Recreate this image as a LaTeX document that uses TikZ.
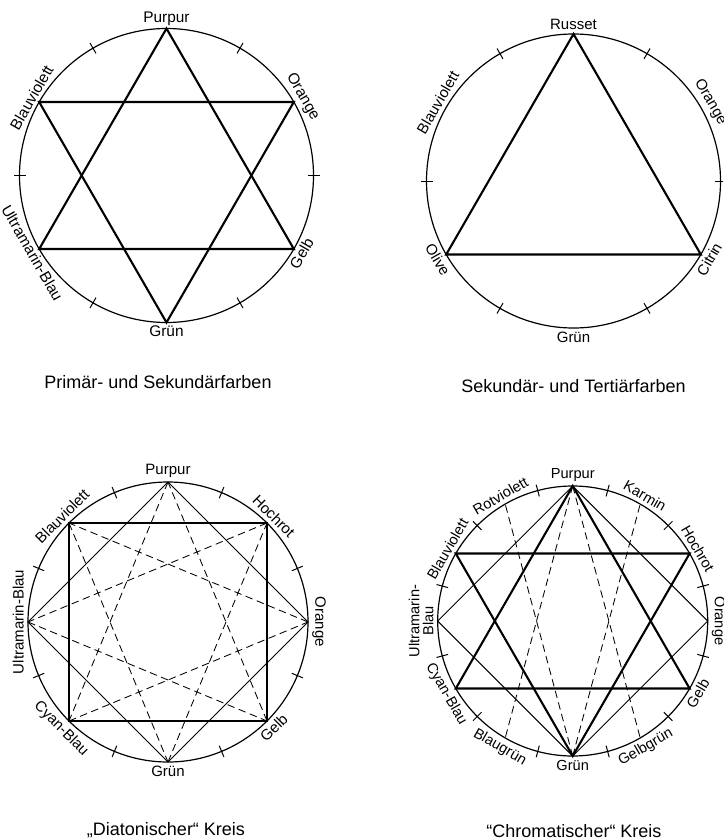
\documentclass[tikz,border=0pt]{standalone}
\usepackage{fontspec}
\setmainfont{Liberation Sans}
\begin{document}
\begin{tikzpicture}[x=1pt,y=1pt,
  circ/.style={line width=1.2pt},
  tickm/.style={line width=1pt},
  bold/.style={line width=2.1pt, line join=miter},
  thinl/.style={line width=1pt},
  dsh/.style={line width=0.85pt, dash pattern=on 7.5pt off 4.5pt},
  lbl/.style={font=\fontsize{15}{16}\selectfont, inner sep=1pt},
  lup/.style={lbl, anchor=south},
  ldn/.style={lbl, anchor=north},
  captxt/.style={font=\fontsize{18}{20}\selectfont, anchor=base, inner sep=0pt}]
\useasboundingbox (0,0) rectangle (723,-840);
\clip (0,0) rectangle (723,-840);

% ---------- A: Primaer- und Sekundaerfarben ----------
\begin{scope}[shift={(166.5,-175.5)}, lbl/.append style={font=\fontsize{15.4}{16}\selectfont}]
  \coordinate (Ac) at (0,0);
  \draw[circ] (Ac) circle[radius=147pt];
  \foreach \t in {0,60,...,300} \draw[tickm] (\t:141) -- (\t:153);
  \coordinate (Ap) at (90:147);
  \coordinate (Ao) at (30:147);
  \coordinate (Ag) at (-30:147);
  \coordinate (Agr) at (-90:147);
  \coordinate (Au) at (-150:147);
  \coordinate (Ab) at (150:147);
  \draw[bold] (Ap) -- (Ag) -- (Au) -- cycle;
  \draw[bold] (Agr) -- (Ao) -- (Ab) -- cycle;
  \node[lup] (lAp) at (90:149) {Purpur};
  \node[lup, rotate=-60] (lAo) at (30:149) {Orange};
  \node[ldn, rotate=60] (lAg) at (-30:149) {Gelb};
  \node[ldn] (lAgr) at (-90:149) {Grün};
  \node[ldn, rotate=-60] (lAu) at (-150:148) {Ultramarin-Blau};
  \node[lup, rotate=60] (lAb) at (150:149) {Blauviolett};
\end{scope}
\node[captxt] (capA) at (158,-388) {Primär- und Sekundärfarben};

% ---------- B: Sekundaer- und Tertiaerfarben ----------
\begin{scope}[shift={(573.5,-181)}]
  \coordinate (Bc) at (0,0);
  \draw[circ] (Bc) circle[radius=147pt];
  \foreach \t in {0,60,...,300} \draw[tickm] (\t:141) -- (\t:153);
  \coordinate (Br) at (90:147);
  \coordinate (Bci) at (-30:147);
  \coordinate (Bol) at (-150:147);
  \draw[bold] (Br) -- (Bci) -- (Bol) -- cycle;
  \node[lup] (lBr) at (90:150) {Russet};
  \node[lup, rotate=-60] (lBo) at (30:150) {Orange};
  \node[ldn, rotate=60] (lBci) at (-30:150) {Citrin};
  \node[ldn] (lBgr) at (-90:150) {Grün};
  \node[ldn, rotate=-60] (lBol) at (-150:150) {Olive};
  \node[lup, rotate=60] (lBb) at (150:150) {Blauviolett};
\end{scope}
\node[captxt] (capB) at (573.5,-392) {Sekundär- und Tertiärfarben};

% ---------- C: Diatonischer Kreis ----------
\begin{scope}[shift={(168,-622)}]
  \coordinate (Cc) at (0,0);
  \draw[circ] (Cc) circle[radius=140pt];
  \foreach \t in {22.5,67.5,...,337.5} \draw[tickm] (\t:134) -- (\t:146);
  \foreach \k in {0,...,7} \coordinate (C\k) at (\k*45:140);
  \foreach \k in {0,...,7} {
    \pgfmathtruncatemacro\j{mod(\k+3,8)}
    \draw[dsh] (C\k) -- (C\j);
  }
  \draw[thinl] (C0) -- (C2) -- (C4) -- (C6) -- cycle;
  \draw[bold] (C1) -- (C3) -- (C5) -- (C7) -- cycle;
  \node[lup] (lC2) at (90:143) {Purpur};
  \node[lup, rotate=-45] (lC1) at (45:143) {Hochrot};
  \node[lup, rotate=-90] (lC0) at (0:143) {Orange};
  \node[ldn, rotate=45] (lC7) at (-45:143) {Gelb};
  \node[ldn] (lC6) at (-90:143) {Grün};
  \node[ldn, rotate=-45] (lC5) at (-135:143) {Cyan-Blau};
  \node[lup, rotate=90] (lC4) at (180:143) {Ultramarin-Blau};
  \node[lup, rotate=45] (lC3) at (135:143) {Blauviolett};
\end{scope}
\node[captxt] (capC) at (166,-835) {„Diatonischer“ Kreis};

% ---------- D: Chromatischer Kreis ----------
\begin{scope}[shift={(572.7,-621)}, lbl/.append style={font=\fontsize{14.6}{14}\selectfont}]
  \coordinate (Dc) at (0,0);
  \draw[circ] (Dc) circle[radius=135pt];
  \foreach \t in {15,45,...,345} \draw[tickm] (\t:129) -- (\t:141);
  \foreach \k in {0,...,11} \coordinate (D\k) at (\k*30:135);
  \draw[dsh] (D3) -- (D8);
  \draw[dsh] (D3) -- (D10);
  \draw[dsh] (D9) -- (D4);
  \draw[dsh] (D9) -- (D2);
  \draw[thinl] (D3) -- (D0) -- (D9) -- (D6) -- cycle;
  \draw[bold] (D3) -- (D11) -- (D7) -- cycle;
  \draw[bold] (D9) -- (D1) -- (D5) -- cycle;
  \node[lup] (lD3) at (90:138) {Purpur};
  \node[lup, rotate=-30] (lD2) at (60:138) {Karmin};
  \node[lup, rotate=-60] (lD1) at (30:138) {Hochrot};
  \node[lup, rotate=-90] (lD0) at (0:138) {Orange};
  \node[ldn, rotate=60] (lD11) at (-30:138) {Gelb};
  \node[ldn, rotate=30] (lD10) at (-60:138) {Gelbgrün};
  \node[ldn] (lD9) at (-90:138) {Grün};
  \node[ldn, rotate=-30] (lD8) at (-120:138) {Blaugrün};
  \node[ldn, rotate=-60] (lD7) at (-150:138) {Cyan-Blau};
  \node[lup, rotate=90, align=center] (lD6) at (180:138) {Ultramarin-\\Blau};
  \node[lup, rotate=60] (lD5) at (150:138) {Blauviolett};
  \node[lup, rotate=30] (lD4) at (120:138) {Rotviolett};
\end{scope}
\node[captxt] (capD) at (574,-837) {“Chromatischer“ Kreis};
\end{tikzpicture}
\end{document}
